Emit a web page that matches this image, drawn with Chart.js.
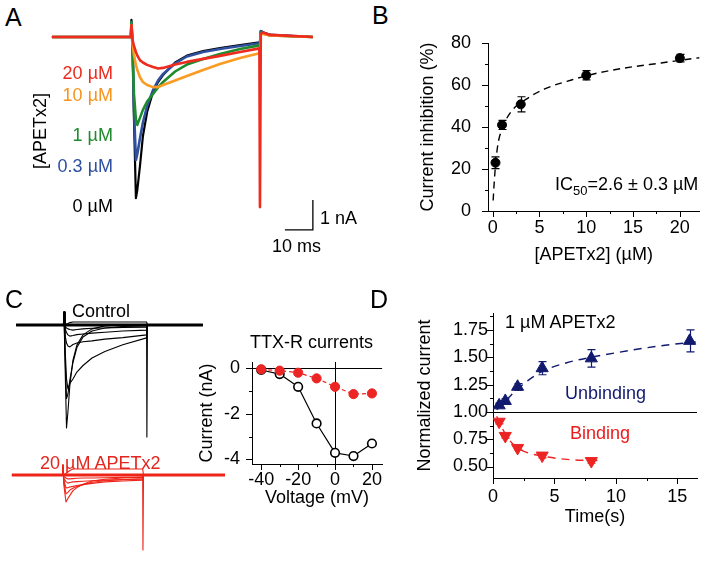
<!DOCTYPE html>
<html>
<head>
<meta charset="utf-8">
<script src="https://cdn.jsdelivr.net/npm/chart.js"></script>
<style>
  body { margin: 0; background: #fff; }
  #fig { position: relative; width: 709px; height: 565px; overflow: hidden; background: #fff;
         font-family: "Liberation Sans", Arial, sans-serif; }
  #fig canvas { position: absolute; }
  .lbl { position: absolute; font-size: 18px; line-height: 18px; white-space: nowrap; color: #000; }
  .r { width: 100px; text-align: right; }
  .panel { position: absolute; font-size: 25px; line-height: 25px; }
  sub { font-size: 13px; line-height: 0; vertical-align: -5px; }
</style>
</head>
<body>
<div id="fig">
  <canvas id="chartA" width="280" height="240" style="left:48px;top:7px"></canvas>
  <canvas id="chartB" width="305" height="240" style="left:400px;top:30px"></canvas>
  <canvas id="chartC" width="224" height="270" style="left:8px;top:295px"></canvas>
  <canvas id="chartIV" width="198" height="155" style="left:190px;top:355px"></canvas>
  <canvas id="chartD" width="305" height="230" style="left:400px;top:300px"></canvas>

  <div class="panel" style="left:5px;top:5px">A</div>
  <div class="panel" style="left:372px;top:3px">B</div>
  <div class="panel" style="left:5px;top:287px">C</div>
  <div class="panel" style="left:370px;top:287px">D</div>

  <div class="lbl r" style="left:13px;top:64px;color:#ec2a1e">20 µM</div>
  <div class="lbl r" style="left:13px;top:86px;color:#f7941d">10 µM</div>
  <div class="lbl r" style="left:13px;top:126px;color:#1e8c2d">1 µM</div>
  <div class="lbl r" style="left:13px;top:157px;color:#2f4f9f">0.3 µM</div>
  <div class="lbl r" style="left:13px;top:197px">0 µM</div>
  <div class="lbl" style="left:-20px;top:122px;width:120px;text-align:center;transform:rotate(-90deg)">[APETx2]</div>
  <div class="lbl" style="left:320px;top:209px">1 nA</div>
  <div class="lbl" style="left:272px;top:237px">10 ms</div>

  <div class="lbl" style="left:555px;top:175px">IC<sub>50</sub>=2.6 ± 0.3 µM</div>

  <div class="lbl" style="left:72px;top:302px">Control</div>
  <div class="lbl" style="left:40px;top:454px;color:#e3261e">20 µM APETx2</div>
  <div class="lbl" style="left:250px;top:333px">TTX-R currents</div>

  <div class="lbl" style="left:505px;top:313px">1 µM APETx2</div>
  <div class="lbl" style="left:565px;top:384px;color:#111a6e">Unbinding</div>
  <div class="lbl" style="left:570px;top:424px;color:#ec1c1c">Binding</div>
</div>

<script>
// ---- Panel A: current traces (time in ms, current in nA) ----
const aTime   = [-28.6, -0.4, -0.2, 0.2, 0.7, 1.4, 1.9, 2.9, 3.9, 5.4, 7.5, 9.3, 11.1, 15.4, 19.6, 25.4, 31.4, 38.6, 45.5, 45.7, 46.0, 46.8, 49.3, 64.6];
const a0uM    = [0, 0, 0.57, -0.3, -2.7, -5.37, -5.1, -4.25, -3.3, -2.5, -1.83, -1.5, -1.27, -0.85, -0.62, -0.47, -0.37, -0.27, -0.18, -0.17, 0.2, 0.15, 0.07, 0];
const a03uM   = [0, 0, 0.5, -0.3, -2.4, -4.1, -3.9, -3.35, -2.85, -2.3, -1.77, -1.45, -1.23, -0.88, -0.65, -0.5, -0.4, -0.3, -0.21, -0.2, 0.2, 0.15, 0.07, 0];
const a1uM    = [0, 0, 0.5, -0.4, -1.9, -2.75, -2.93, -2.68, -2.43, -2.15, -1.9, -1.68, -1.5, -1.15, -0.92, -0.73, -0.57, -0.4, -0.28, -0.27, 0.15, 0.12, 0.05, 0];
const a10uM   = [0, 0, 0.4, -0.2, -0.6, -0.93, -1.1, -1.35, -1.5, -1.6, -1.67, -1.67, -1.6, -1.45, -1.3, -1.1, -0.9, -0.7, -0.54, -0.53, 0.1, 0.1, 0.05, 0];
const a20uM   = [0, 0, 0.4, -0.1, -0.3, -0.5, -0.62, -0.78, -0.85, -0.93, -1.0, -1.05, -1.03, -0.92, -0.83, -0.73, -0.63, -0.5, -0.38, -5.67, 0.1, 0.15, 0.07, 0];
const aBarT   = [54.6, 64.6, 64.6];      // 10 ms
const aBarI   = [-6.43, -6.43, -5.43];   // 1 nA

// ---- Panel B: dose response ----
const bConc   = [0.3, 1, 3, 10, 20];
const bInhib  = [23, 41, 50.8, 64.6, 72.8];
const bErr    = [2.8, 2.2, 3.6, 2.2, 1.8];
const bFitX   = [0.05, 0.2, 0.5, 1, 2, 3.5, 5.5, 8.5, 11, 14, 18, 22.1];
const bFitY   = [5, 16, 30, 39, 47.5, 53, 58, 62.5, 65.5, 68, 70.5, 73];
const bXTicks = [0, 5, 10, 15, 20];
const bXMinor = [2.5, 7.5, 12.5, 17.5];
const bYTicks = [0, 20, 40, 60, 80];
const bYMinor = [10, 30, 50, 70];

// ---- Panel C: family of traces, control and 20 uM APETx2 ----
const cTime  = [-17.1, -0.2, 0, 0.3, 0.9, 1.4, 2.1, 3.2, 4.6, 6.8, 10, 14.6, 21, 29.5, 29.6, 29.8, 49.6];
const cCtrl1 = [0, 0, 0.43, -1.0, -3.43, -2.9, -2.0, -1.17, -0.67, -0.33, -0.13, -0.03, 0, 0, -3.73, 0, 0];
const cCtrl2 = [0, 0, 0.43, -0.8, -2.45, -2.3, -1.83, -1.25, -0.75, -0.4, -0.2, -0.1, -0.05, -0.03, -0.03, 0, 0];
const cCtrl3 = [0, 0, 0.43, -0.6, -1.8, -2.13, -1.95, -1.8, -1.57, -1.35, -1.1, -0.88, -0.66, -0.43, -0.43, 0, 0];
const cCtrl4 = [0, 0, 0.43, -0.3, -0.6, -0.7, -0.73, -0.65, -0.6, -0.56, -0.53, -0.47, -0.42, -0.33, -0.33, 0, 0];
const cCtrl5 = [0, 0, 0.43, -0.1, -0.25, -0.33, -0.37, -0.35, -0.32, -0.3, -0.27, -0.24, -0.2, -0.17, -0.17, 0, 0];
const cCtrl6 = [0, 0, 0.43, -0.05, -0.1, -0.13, -0.15, -0.17, -0.15, -0.13, -0.11, -0.1, -0.08, -0.07, -0.07, 0, 0];
const cCtrl7 = [0, 0, 0.43, 0, 0.03, 0.05, 0.08, 0.1, 0.1, 0.1, 0.1, 0.1, 0.1, 0.1, 0.1, 0, 0];
const cCtrlBaseT = [-17.1, 49.6];
const rTime  = [-18.6, -0.5, -0.36, -0.1, 0.7, 1.4, 2.1, 3.2, 4.6, 6.8, 10, 14.6, 21, 28.1, 28.2, 28.4, 57.5];
const rApe1  = [0, 0, 0.33, -0.3, -0.9, -0.78, -0.68, -0.52, -0.42, -0.31, -0.2, -0.14, -0.1, -0.07, -2.5, 0, 0];
const rApe2  = [0, 0, 0.33, -0.2, -0.63, -0.58, -0.5, -0.44, -0.38, -0.32, -0.24, -0.19, -0.16, -0.13, -0.13, 0, 0];
const rApe3  = [0, 0, 0.33, -0.15, -0.43, -0.42, -0.4, -0.38, -0.35, -0.32, -0.28, -0.23, -0.2, -0.17, -0.17, 0, 0];
const rApe4  = [0, 0, 0.33, -0.1, -0.22, -0.27, -0.25, -0.23, -0.22, -0.21, -0.19, -0.17, -0.15, -0.13, -0.13, 0, 0];
const rApe5  = [0, 0, 0.33, -0.05, -0.1, -0.13, -0.13, -0.12, -0.11, -0.1, -0.1, -0.09, -0.08, -0.07, -0.07, 0, 0];
const rApe6  = [0, 0, 0.33, 0, 0.05, 0.1, 0.15, 0.2, 0.2, 0.2, 0.2, 0.2, 0.2, 0.2, 0.2, 0, 0];
const rApeBaseT = [-18.6, 57.5];
const zeroPair = [0, 0];

// ---- Panel C inset: I-V ----
const ivVolt    = [-40, -30, -20, -10, 0, 10, 20];
const ivControl = [-0.07, -0.25, -0.81, -2.42, -3.71, -3.85, -3.3];
const ivApetx   = [-0.04, -0.1, -0.19, -0.44, -0.81, -1.13, -1.1];
const ivXTicks  = [-40, -20, 0, 20];
const ivXMinor  = [-30, -10, 10];
const ivYTicks  = [0, -2, -4];
const ivYMinor  = [-1, -3];

// ---- Panel D: time course ----
const dTimeUnbind = [0.5, 1, 2, 4, 8, 16];
const dUnbind     = [1.06, 1.10, 1.23, 1.40, 1.49, 1.65];
const dUnbindErr  = [0.02, 0.02, 0.03, 0.06, 0.08, 0.10];
const dTimeBind   = [0.5, 1, 2, 4, 8];
const dBind       = [0.91, 0.78, 0.67, 0.60, 0.55];
const dBindErr    = [0.02, 0.02, 0.02, 0.02, 0.02];
const dFitUnbindX = [0.3, 1, 2, 3, 4, 6, 8, 11, 14, 16.5];
const dFitUnbindY = [1.02, 1.10, 1.21, 1.30, 1.37, 1.45, 1.50, 1.56, 1.61, 1.64];
const dFitBindX   = [0.3, 0.5, 1, 1.5, 2, 3, 4, 6, 8.5];
const dFitBindY   = [0.96, 0.91, 0.80, 0.72, 0.67, 0.62, 0.595, 0.565, 0.555];
const dXTicks = [0, 5, 10, 15];
const dXMinor = [2.5, 7.5, 12.5];
const dYTicks = [0.5, 0.75, 1.0, 1.25, 1.5, 1.75];
const dYMinor = [0.625, 0.875, 1.125, 1.375, 1.625, 1.875];

const RED = '#ec2424', NAVY = '#111a6e';

Chart.defaults.font.family = '"Liberation Sans", Arial, sans-serif';
Chart.defaults.font.size = 18;
Chart.defaults.color = '#000';
Chart.defaults.animation = false;
Chart.defaults.plugins.legend.display = false;
Chart.defaults.plugins.tooltip.enabled = false;

function xy(xs, ys) {
    return xs.map((x, i) => ({ x: x, y: ys[i] }));
}

function trace(xs, ys, color, width, extra) {
    return Object.assign({
        data: xy(xs, ys), showLine: true, borderColor: color, borderWidth: width,
        pointRadius: 0, tension: 0, borderJoinStyle: 'round'
    }, extra || {});
}

// tick marks pointing outward, plus reference lines
const axisMarks = {
    id: 'axisMarks',
    beforeDatasetsDraw(chart, args, opts) {
        const ctx = chart.ctx, a = chart.chartArea;
        ctx.save();
        ctx.strokeStyle = '#000';
        ctx.lineWidth = 1;
        (opts.xLines || []).forEach(v => {
            const p = Math.round(chart.scales.x.getPixelForValue(v)) + 0.5;
            ctx.beginPath(); ctx.moveTo(p, a.top); ctx.lineTo(p, a.bottom); ctx.stroke();
        });
        (opts.yLines || []).forEach(v => {
            const p = Math.round(chart.scales.y.getPixelForValue(v)) + 0.5;
            ctx.beginPath(); ctx.moveTo(a.left, p); ctx.lineTo(a.right, p); ctx.stroke();
        });
        ctx.restore();
    },
    afterDraw(chart, args, opts) {
        const ctx = chart.ctx, a = chart.chartArea;
        const sx = chart.scales.x, sy = chart.scales.y;
        ctx.save();
        ctx.strokeStyle = '#000';
        ctx.lineWidth = 1;
        [[opts.xMajor, 6], [opts.xMinor, 3]].forEach(([vals, len]) => {
            (vals || []).forEach(v => {
                const p = Math.round(sx.getPixelForValue(v)) + 0.5;
                ctx.beginPath(); ctx.moveTo(p, a.bottom); ctx.lineTo(p, a.bottom + len); ctx.stroke();
            });
        });
        [[opts.yMajor, 6], [opts.yMinor, 3]].forEach(([vals, len]) => {
            (vals || []).forEach(v => {
                const p = Math.round(sy.getPixelForValue(v)) + 0.5;
                ctx.beginPath(); ctx.moveTo(a.left, p); ctx.lineTo(a.left - len, p); ctx.stroke();
            });
        });
        ctx.restore();
    }
};

const errorBars = {
    id: 'errorBars',
    afterDatasetsDraw(chart) {
        const ctx = chart.ctx, sy = chart.scales.y;
        chart.data.datasets.forEach((ds, i) => {
            if (!ds.errors) return;
            const meta = chart.getDatasetMeta(i);
            ctx.save();
            ctx.strokeStyle = ds.pointBackgroundColor;
            ctx.lineWidth = 1.2;
            meta.data.forEach((pt, j) => {
                const v = ds.data[j].y, e = ds.errors[j];
                const t = sy.getPixelForValue(v + e), b = sy.getPixelForValue(v - e);
                const x = Math.round(pt.x) + 0.5;
                ctx.beginPath();
                ctx.moveTo(x, t); ctx.lineTo(x, b);
                ctx.moveTo(x - 4, t); ctx.lineTo(x + 4, t);
                ctx.moveTo(x - 4, b); ctx.lineTo(x + 4, b);
                ctx.stroke();
            });
            ctx.restore();
        });
    }
};

function hiddenAxis(min, max) {
    return { type: 'linear', display: false, min: min, max: max };
}

function valueAxis(o) {
    return {
        type: 'linear', min: o.min, max: o.max,
        grid: { display: false, drawTicks: false, tickLength: 0 },
        border: { color: '#000', width: 1 },
        ticks: { padding: o.pad, color: '#000', callback: o.fmt || (v => String(v)) },
        afterBuildTicks: s => { s.ticks = o.ticks.map(v => ({ value: v })); },
        afterFit: s => {
            if (o.axis === 'x') { s.height = o.size; s.paddingLeft = 0; s.paddingRight = 0; }
            else { s.width = o.size; s.paddingTop = 0; s.paddingBottom = 0; }
        },
        title: { display: true, text: o.title, color: '#000', padding: o.titlePad }
    };
}

// Panel A
new Chart(document.getElementById('chartA'), {
    type: 'scatter',
    data: {
        datasets: [
            trace(aTime, a20uM, '#ef2a1e', 2.6),
            trace(aTime, a10uM, '#fb9b22', 2.6),
            trace(aTime, a1uM, '#1e8c2d', 2.6),
            trace(aTime, a03uM, '#2f4f9f', 2.6),
            trace(aTime, a0uM, '#000000', 2.2),
            trace(aBarT, aBarI, '#000000', 1.3, { borderJoinStyle: 'miter' })
        ]
    },
    options: {
        responsive: false,
        layout: { padding: 0 },
        scales: { x: hiddenAxis(-30, 70), y: hiddenAxis(-7, 1) }
    }
});

// Panel B
new Chart(document.getElementById('chartB'), {
    type: 'scatter',
    data: {
        datasets: [
            { data: xy(bConc, bInhib), errors: bErr, pointRadius: 4.5, pointBackgroundColor: '#000',
              pointBorderColor: '#000', showLine: false },
            trace(bFitX, bFitY, '#000', 1.4, { borderDash: [7, 5], cubicInterpolationMode: 'monotone' })
        ]
    },
    options: {
        responsive: false,
        layout: { padding: { top: 13, right: 5, left: 0, bottom: 0 } },
        scales: {
            x: valueAxis({ axis: 'x', min: -0.5, max: 22.1, ticks: bXTicks, pad: 6, size: 59,
                           title: '[APETx2] (µM)', titlePad: { top: 0, bottom: 4 } }),
            y: valueAxis({ axis: 'y', min: 0, max: 80, ticks: bYTicks, pad: 17, size: 88,
                           title: 'Current inhibition (%)', titlePad: { top: 17, bottom: 0 } })
        },
        plugins: { axisMarks: { xMajor: bXTicks, xMinor: bXMinor, yMajor: bYTicks, yMinor: bYMinor } }
    },
    plugins: [axisMarks, errorBars]
});

// Panel C traces
const ctrlSets = [cCtrl1, cCtrl2, cCtrl3, cCtrl4, cCtrl5, cCtrl6, cCtrl7].map(v => trace(cTime, v, '#000', 1.1));
const apeSets = [rApe1, rApe2, rApe3, rApe4, rApe5, rApe6].map(v => trace(rTime, v, '#ef2418', 1.1, { yAxisID: 'y2' }));
new Chart(document.getElementById('chartC'), {
    type: 'scatter',
    data: {
        datasets: [
            trace(cCtrlBaseT, zeroPair, '#000', 3),
            trace(rApeBaseT, zeroPair, '#ef2418', 3, { yAxisID: 'y2' })
        ].concat(ctrlSets, apeSets)
    },
    options: {
        responsive: false,
        layout: { padding: 0 },
        scales: { x: hiddenAxis(-20, 60), y: hiddenAxis(-8, 1), y2: hiddenAxis(-3, 6) }
    }
});

// Panel C inset (I-V)
new Chart(document.getElementById('chartIV'), {
    type: 'scatter',
    data: {
        datasets: [
            trace(ivVolt, ivApetx, RED, 1.2, { borderDash: [4, 3], pointRadius: 4.6,
                pointBackgroundColor: RED, pointBorderColor: RED, pointBorderWidth: 1 }),
            trace(ivVolt, ivControl, '#000', 1.2, { pointRadius: 4.3,
                pointBackgroundColor: '#fff', pointBorderColor: '#000', pointBorderWidth: 1.6 })
        ]
    },
    options: {
        responsive: false,
        layout: { padding: { top: 7, right: 5, left: 0, bottom: 0 } },
        scales: {
            x: valueAxis({ axis: 'x', min: -45, max: 25.5, ticks: ivXTicks, pad: 5, size: 46,
                           title: 'Voltage (mV)', titlePad: { top: 0, bottom: 1 } }),
            y: valueAxis({ axis: 'y', min: -4.2, max: 0.28, ticks: ivYTicks, pad: 12, size: 62,
                           title: 'Current (nA)', titlePad: { top: 6, bottom: 0 } })
        },
        plugins: { axisMarks: { xLines: [0], yLines: [0], xMajor: ivXTicks, xMinor: ivXMinor,
                                yMajor: ivYTicks, yMinor: ivYMinor } }
    },
    plugins: [axisMarks]
});

// Panel D
new Chart(document.getElementById('chartD'), {
    type: 'scatter',
    data: {
        datasets: [
            { data: xy(dTimeUnbind, dUnbind), errors: dUnbindErr, pointStyle: 'triangle', pointRadius: 7,
              pointBackgroundColor: NAVY, pointBorderColor: NAVY, showLine: false },
            { data: xy(dTimeBind, dBind), errors: dBindErr, pointStyle: 'triangle', pointRotation: 180,
              pointRadius: 7, pointBackgroundColor: RED, pointBorderColor: RED, showLine: false },
            trace(dFitUnbindX, dFitUnbindY, NAVY, 1.4, { borderDash: [8, 6], cubicInterpolationMode: 'monotone' }),
            trace(dFitBindX, dFitBindY, RED, 1.4, { borderDash: [8, 6], cubicInterpolationMode: 'monotone' })
        ]
    },
    options: {
        responsive: false,
        layout: { padding: { top: 13, right: 3, left: 0, bottom: 0 } },
        scales: {
            x: valueAxis({ axis: 'x', min: 0, max: 16.6, ticks: dXTicks, pad: 8, size: 52,
                           title: 'Time(s)', titlePad: { top: 0, bottom: 2 } }),
            y: valueAxis({ axis: 'y', min: 0.395, max: 1.905, ticks: dYTicks, pad: 5, size: 93,
                           fmt: v => v.toFixed(2),
                           title: 'Normalized current', titlePad: { top: 14, bottom: 0 } })
        },
        plugins: { axisMarks: { yLines: [1], xMajor: dXTicks, xMinor: dXMinor, yMajor: dYTicks, yMinor: dYMinor } }
    },
    plugins: [axisMarks, errorBars]
});
</script>
</body>
</html>
